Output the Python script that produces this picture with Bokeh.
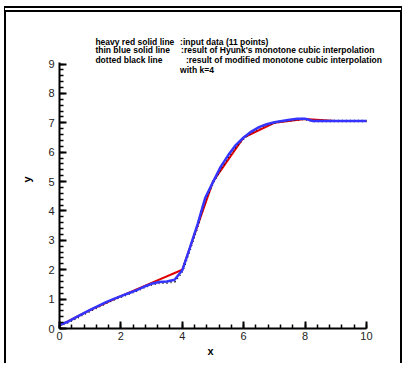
from bokeh.plotting import figure
from bokeh.models import Range1d, SingleIntervalTicker, Label, Title
from bokeh.embed import file_html
from bokeh.resources import INLINE

# input data (11 points)
x_in = [0, 1, 2, 3, 4, 5, 6, 7, 8, 9, 10]
y_in = [0.1, 0.63, 1.1, 1.55, 2.0, 5.0, 6.5, 7.0, 7.13, 7.06, 7.06]

# Hyman's monotone cubic interpolation
x_hy = [0, 0.25, 0.5, 0.75, 1, 1.25, 1.5, 1.75, 2, 2.25, 2.5, 2.75, 3, 3.25, 3.5,
        3.75, 4, 4.25, 4.5, 4.75, 5, 5.25, 5.5, 5.75, 6, 6.25, 6.5, 6.75, 7, 7.25,
        7.5, 7.75, 8, 8.25, 8.5, 9, 9.5, 10]
y_hy = [0.12, 0.22, 0.36, 0.5, 0.63, 0.76, 0.89, 1.0, 1.1, 1.2, 1.3, 1.42, 1.52, 1.58, 1.6,
        1.66, 1.98, 2.75, 3.55, 4.45, 4.98, 5.5, 5.9, 6.25, 6.5, 6.7, 6.85, 6.95, 7.02, 7.06,
        7.1, 7.14, 7.14, 7.06, 7.06, 7.06, 7.06, 7.06]

# modified monotone cubic interpolation with k=4
x_mod = [0, 0.25, 0.5, 0.75, 1, 1.25, 1.5, 1.75, 2, 2.25, 2.5, 2.75, 3, 3.25, 3.5,
         3.75, 4, 4.25, 4.5, 4.75, 5, 5.25, 5.5, 5.75, 6, 6.25, 6.5, 6.75, 7, 7.25,
         7.5, 7.75, 8, 8.25, 8.5, 9, 9.5, 10]
y_mod = [0.1, 0.2, 0.33, 0.47, 0.6, 0.73, 0.86, 0.98, 1.08, 1.18, 1.28, 1.4, 1.5, 1.55, 1.56,
         1.6, 1.95, 2.7, 3.5, 4.4, 4.95, 5.45, 5.85, 6.2, 6.47, 6.68, 6.83, 6.94, 7.0, 7.05,
         7.08, 7.12, 7.13, 7.06, 7.06, 7.06, 7.06, 7.06]

legend_left = ["heavy red solid line", "thin blue solid line", "dotted black line", ""]
legend_right = [":input data (11 points)", ":result of Hyunk's monotone cubic interpolation",
                ":result of modified monotone cubic interpolation", " with k=4"]

p = figure(width=398, height=357, output_backend="svg", toolbar_location=None,
           x_range=Range1d(0, 11.11), y_range=Range1d(0, 10.14),
           min_border_left=53, min_border_right=4, min_border_top=18, min_border_bottom=41,
           styles={"margin-left": "4px", "margin-top": "6px",
                   "border-left": "2px solid black", "border-right": "2px solid black",
                   "border-top": "6px double black"})
p.outline_line_color = None
p.xgrid.visible = False
p.ygrid.visible = False

p.line(x_in, y_in, line_color="#e00000", line_width=2)
p.line(x_mod, y_mod, line_color="black", line_width=2.5, line_dash="1 3")
p.line(x_hy, y_hy, line_color="#3535ff", line_width=2.5)

for ax in (p.xaxis[0], p.yaxis[0]):
    ax.axis_line_width = 2
    ax.major_tick_line_width = 2
    ax.minor_tick_line_width = 1.5
    ax.major_tick_in = 7
    ax.major_tick_out = 0
    ax.minor_tick_in = 4
    ax.minor_tick_out = 0
    ax.major_label_text_font = "Liberation Sans"
    ax.major_label_text_font_size = "11px"
    ax.major_label_text_color = "#222222"
    ax.axis_label_text_font = "Liberation Sans"
    ax.axis_label_text_font_style = "bold"
    ax.axis_label_text_font_size = "11px"
    ax.axis_label_text_color = "black"

p.xaxis[0].ticker = SingleIntervalTicker(interval=2, num_minor_ticks=5)
p.yaxis[0].ticker = SingleIntervalTicker(interval=1, num_minor_ticks=5)
p.xaxis[0].bounds = (0, 10)
p.yaxis[0].bounds = (0, 9.05)
p.yaxis[0].axis_label = "y"
p.xaxis[0].major_label_standoff = 3
p.yaxis[0].major_label_standoff = 5
p.yaxis[0].axis_label_standoff = 12

p.add_layout(Title(text="x", align="left", offset=148, standoff=0,
                   text_font="Liberation Sans", text_font_style="bold",
                   text_font_size="11px", text_color="black"), "below")

rows_y = [9.74, 9.46, 9.12, 8.81]
col1_x = 1.17
col2_x = [3.93, 3.96, 4.12, 3.93]
for i in range(4):
    if legend_left[i]:
        p.add_layout(Label(x=col1_x, y=rows_y[i], text=legend_left[i],
                           text_font="Liberation Sans", text_font_style="bold",
                           text_font_size="8.5px", text_baseline="middle", text_color="black"))
    p.add_layout(Label(x=col2_x[i], y=rows_y[i], text=legend_right[i],
                       text_font="Liberation Sans", text_font_style="bold",
                       text_font_size="8.5px", text_baseline="middle", text_color="black"))

open("out.html", "w").write(file_html(p, INLINE))
